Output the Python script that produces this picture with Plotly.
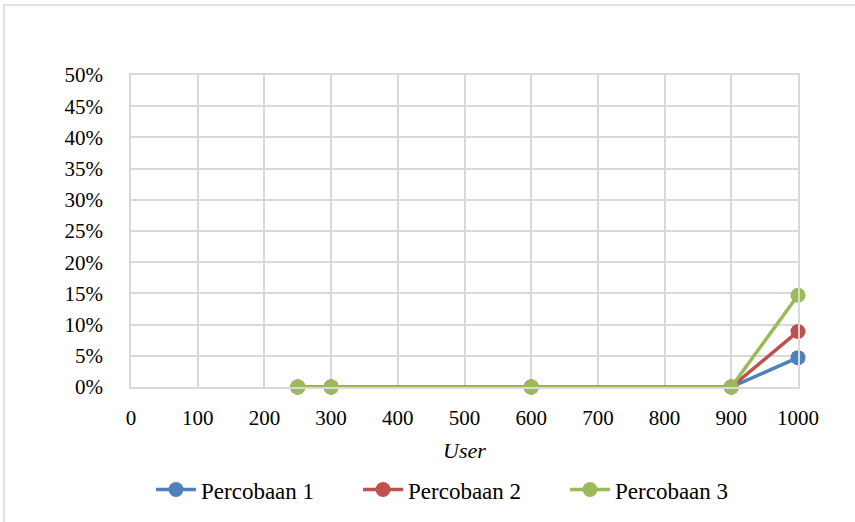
import plotly.graph_objects as go

users = [250, 300, 600, 900, 1000]
percobaan_1 = [0.0, 0.0, 0.0, 0.0, 0.047]
percobaan_2 = [0.0, 0.0, 0.0, 0.0, 0.089]
percobaan_3 = [0.0, 0.0, 0.0, 0.0, 0.147]
series_names = ["Percobaan 1", "Percobaan 2", "Percobaan 3"]
colors = ["#4F81BD", "#C0504D", "#9BBB59"]

FONT = "Liberation Serif, Times New Roman, serif"

fig = go.Figure()
for name, vals, col in zip(series_names, [percobaan_1, percobaan_2, percobaan_3], colors):
    fig.add_trace(go.Scatter(
        x=users, y=vals, name=name, mode="lines+markers",
        line=dict(color=col, width=3.5),
        marker=dict(color=col, size=15),
        cliponaxis=False,
    ))

fig.update_layout(
    width=855, height=522,
    margin=dict(l=131, r=57, t=75, b=135, autoexpand=False),
    paper_bgcolor="white", plot_bgcolor="white",
    font=dict(family=FONT, size=21, color="black"),
    showlegend=True,
    legend=dict(orientation="h", x=0.03, xanchor="left", y=-0.26, yanchor="top",
                font=dict(size=23), itemwidth=40,
                entrywidth=152, entrywidthmode="pixels"),
    xaxis=dict(range=[0, 1000], dtick=100, tick0=0, showgrid=True,
               gridcolor="#d9d9d9", gridwidth=1.5, zeroline=False,
               showline=True, linecolor="#d9d9d9", linewidth=1.5, mirror=True,
               ticks="", ticklabelstandoff=11,
               title=dict(text="<i>User</i>", font=dict(size=22), standoff=14)),
    yaxis=dict(range=[0, 0.5], dtick=0.05, tick0=0, tickformat=".0%",
               showgrid=True, gridcolor="#d9d9d9", gridwidth=1.5, zeroline=False,
               showline=True, linecolor="#d9d9d9", linewidth=1.5, mirror=True,
               ticks="", ticklabelstandoff=22),
    shapes=[dict(type="rect", xref="paper", yref="paper",
                 x0=-0.1904, x1=1.2, y0=-0.6, y1=1.2244,
                 line=dict(color="#d9d9d9", width=1.5), layer="below")],
)

fig.write_html("out.html")
